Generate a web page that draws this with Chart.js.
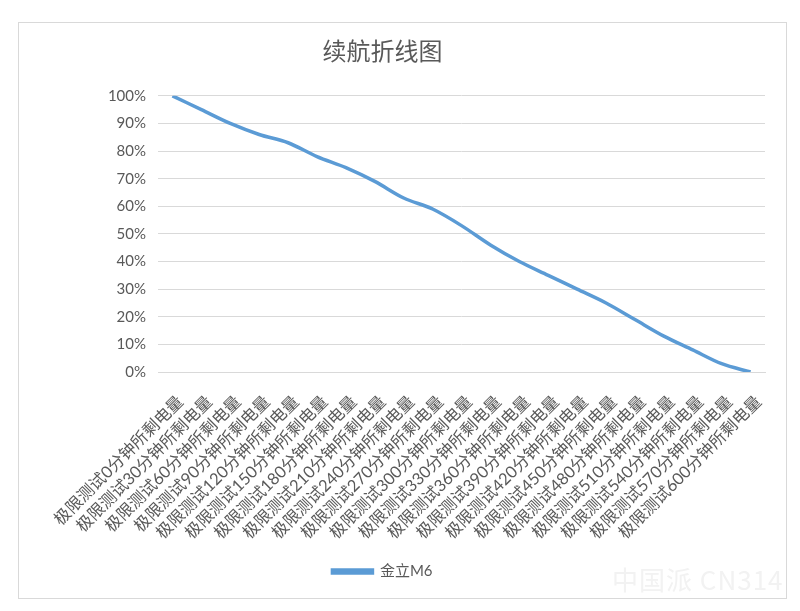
<!DOCTYPE html>
<html>
<head>
<meta charset="utf-8">
<script src="https://cdn.jsdelivr.net/npm/chart.js@4"></script>
<style>
  body { margin: 0; background: #fff; }
  #wrap { position: relative; width: 800px; height: 611px; }
  #frame { position: absolute; left: 18px; top: 22px; width: 767px; height: 575px; border: 1px solid #d9d9d9; }
  #mark { position: absolute; left: 612px; top: 560px; font: 26px "Noto Sans CJK SC", sans-serif; color: #f2f2f2; letter-spacing: 1px; }
</style>
</head>
<body>
<div id="wrap">
  <div id="frame"></div>
  <canvas id="chart" width="800" height="611"></canvas>
  <div id="mark">中国派 CN314</div>
</div>
<script>
// minutes of the test, one category each
const minutes = [0, 30, 60, 90, 120, 150, 180, 210, 240, 270, 300, 330, 360, 390, 420, 450, 480, 510, 540, 570, 600];
const categories = minutes.map(m => "极限测试" + m + "分钟所剩电量");
// remaining battery, percent
const batteryM6 = [100, 95, 90, 86, 83, 78, 74, 69, 63, 59, 53, 46, 40, 35, 30, 25, 19, 13, 8, 3, 0];
const seriesName = "金立M6";
const chartTitle = "续航折线图";

const fontFam = 'Lato, "Noto Sans CJK SC", sans-serif';
const grey = "#595959";

const ctx = document.getElementById("chart").getContext("2d");
const graph = new Chart(ctx, {
    type: "line",
    data: {
        labels: categories,
        datasets: [{
            label: seriesName,
            data: batteryM6,
            borderColor: "#5B9BD5",
            backgroundColor: "#5B9BD5",
            borderWidth: 3.5,
            pointRadius: 0,
            cubicInterpolationMode: "monotone",
            fill: false
        }]
    },
    options: {
        responsive: false,
        animation: false,
        layout: { padding: { left: 0, right: 35, top: 0, bottom: 22 } },
        plugins: {
            title: {
                display: true,
                text: chartTitle,
                color: grey,
                font: { family: fontFam, size: 24, weight: "normal" },
                padding: { top: 38, bottom: 29 }
            },
            legend: {
                position: "bottom",
                labels: {
                    color: grey,
                    font: { family: fontFam, size: 15 },
                    boxWidth: 40,
                    boxHeight: 3,
                    padding: 10
                }
            },
            tooltip: { enabled: false }
        },
        scales: {
            x: {
                offset: true,
                grid: { display: false },
                border: { color: "#d9d9d9" },
                ticks: {
                    color: grey,
                    font: { family: fontFam, size: 16.5 },
                    minRotation: 45,
                    maxRotation: 45,
                    autoSkip: false,
                    padding: 12,
                    labelOffset: 8
                },
                afterFit: function (scale) { scale.height = 182; }
            },
            y: {
                min: 0,
                max: 100,
                grid: { color: "#d9d9d9", drawTicks: false },
                border: { display: false },
                ticks: {
                    stepSize: 10,
                    color: grey,
                    font: { family: fontFam, size: 15 },
                    padding: 12,
                    callback: v => v + "%"
                },
                afterFit: function (scale) { scale.width = 158; }
            }
        }
    }
});
</script>
</body>
</html>
